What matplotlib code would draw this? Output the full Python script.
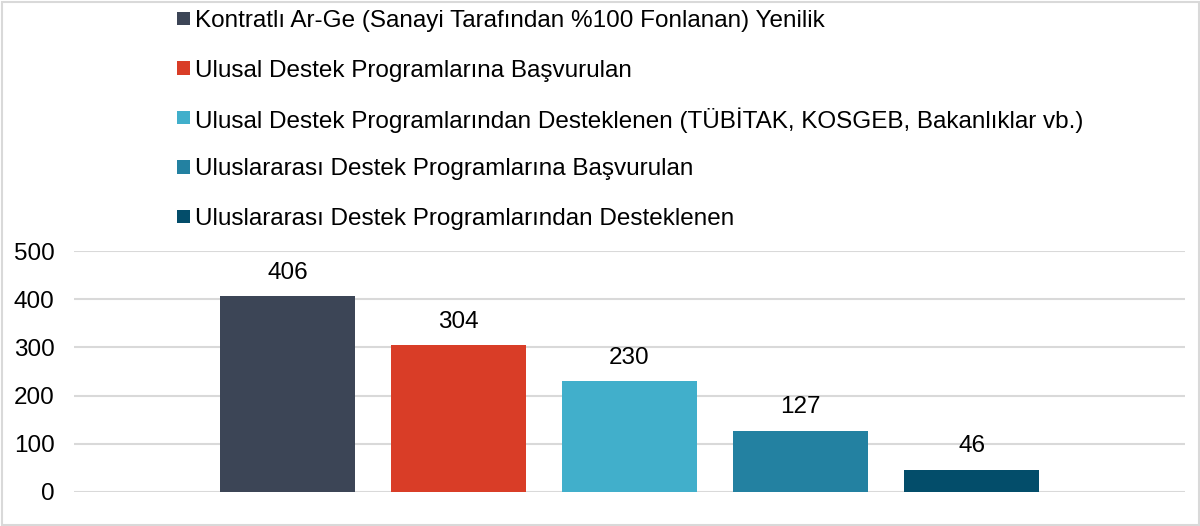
import matplotlib
matplotlib.use("Agg")
import matplotlib.pyplot as plt
from matplotlib.patches import Rectangle

plt.rcParams['font.family'] = ['Liberation Sans', 'DejaVu Sans']

series = [
    "Kontratlı Ar-Ge (Sanayi Tarafından %100 Fonlanan) Yenilik",
    "Ulusal Destek Programlarına Başvurulan",
    "Ulusal Destek Programlarından Desteklenen (TÜBİTAK, KOSGEB, Bakanlıklar vb.)",
    "Uluslararası Destek Programlarına Başvurulan",
    "Uluslararası Destek Programlarından Desteklenen",
]
values = [406, 304, 230, 127, 46]
colors = ["#3C4556", "#D93D27", "#41AFCB", "#2381A1", "#034D6A"]
yticks = [0, 100, 200, 300, 400, 500]

FS = 17.5
W, H = 1200, 526
fig = plt.figure(figsize=(W/100, H/100), dpi=100)
ax = fig.add_axes([74/W, 1-492/H, (1185-74)/W, (492-251)/H])

for i, (lab, v, c) in enumerate(zip(series, values, colors)):
    b = ax.bar(i, v, width=135/171, color=c, label=lab, zorder=3)
    ax.bar_label(b, labels=[str(v)], padding=9, fontsize=FS, color="#000000")

ax.set_xlim(2 - 1111/171/2, 2 + 1111/171/2)
ax.set_ylim(0, 500)
ax.set_yticks(yticks)
ax.set_yticklabels([str(t) for t in yticks])
ax.set_xticks([])
ax.tick_params(axis='y', length=0, pad=14, labelsize=FS, labelcolor="#000000")
ax.grid(axis='y', color="#D9D9D9", linewidth=1.5, zorder=0)
for s in ax.spines.values():
    s.set_visible(False)

# legend, one row per series
row_y0, row_dy = 18.5, 49.5
for i, (lab, c) in enumerate(zip(series, colors)):
    yc = row_y0 + i * row_dy
    fig.patches.append(Rectangle((177/W, 1 - (yc + 6.5)/H), 13/W, 13/H,
                                 transform=fig.transFigure, facecolor=c, edgecolor='none'))
    fig.text(195/W, 1 - yc/H, lab, fontsize=FS, color="#000000",
             ha='left', va='center_baseline')

fig.patches.append(Rectangle((1.5/W, 1.5/H), 1-3/W, 1-3/H, transform=fig.transFigure,
                             fill=False, edgecolor="#D9D9D9", linewidth=1.5))

fig.savefig("out.png", dpi=100)
